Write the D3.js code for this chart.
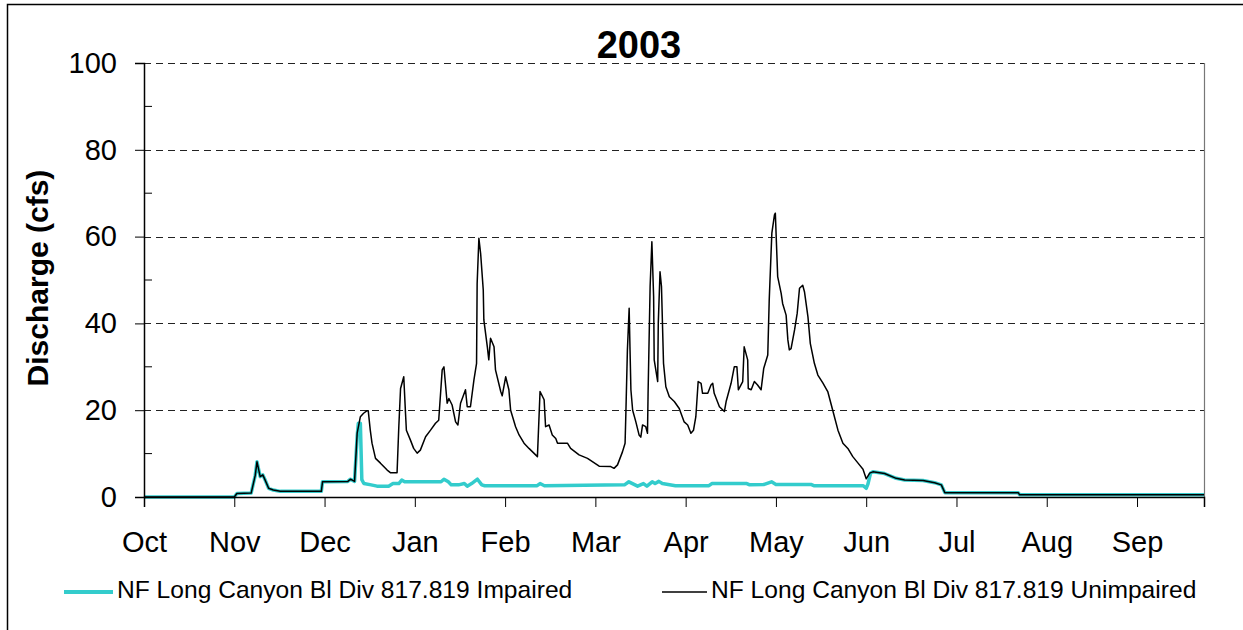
<!DOCTYPE html>
<html>
<head>
<meta charset="UTF-8">
<title>2003</title>
<script src="https://d3js.org/d3.v7.min.js"></script>
<style>
  body { margin: 0; background: #fff; font-family: "Liberation Sans", Arial, sans-serif; }
</style>
</head>
<body>
<svg width="1243" height="630"></svg>
<script>
// day index from Oct 1, discharge in cfs
const unimpaired = [[0,0],[31,0],[31.9,0.8],[36.8,0.9],[38.2,5],[38.8,8.1],[39.9,4.7],[40.8,5.1],[41.6,3.9],[42.8,2],[44.4,1.6],[46.8,1.3],[60.9,1.3],[61.3,3.5],[70,3.6],[70.9,4.1],[72.3,3.6],[73.2,14.7],[74.3,18.5],[75.4,19.3],[76.6,19.9],[77,19.9],[77.7,15.4],[78.3,12.4],[79.5,8.9],[81.2,7.8],[83.5,6.2],[84.6,5.6],[86.9,5.6],[87.5,16.2],[88.1,25],[89.2,27.7],[89.8,19.3],[90.1,15.4],[91.5,13.1],[92.6,11.2],[93.8,10.1],[94.9,10.8],[96.7,13.9],[98.4,15.4],[100.1,17],[101.2,17.7],[102.4,29.3],[103,30],[104.1,21.6],[104.7,22.7],[105.8,21.2],[107,17.3],[107.8,16.6],[108.7,21.6],[110.4,24.7],[111,20.8],[112.1,20.8],[113.3,27],[114.2,30.8],[114.4,49.2],[115,59.6],[115.6,56.1],[116.5,47.7],[116.7,40.8],[117.9,34.6],[118.4,31.6],[119,36.6],[120.2,34.6],[120.7,29.3],[122.5,24.3],[123,23.3],[124.2,27.7],[125.3,24.7],[125.9,20],[127.6,16.2],[128.8,14.3],[130.5,12.4],[132.2,11.2],[135.1,9.3],[136,24.3],[137.4,22.4],[137.9,16.2],[139.1,16.6],[140.2,14.3],[141.4,13.5],[142,12.4],[145.4,12.4],[146.5,11.2],[149.4,9.7],[152.3,8.9],[156.3,7.1],[160.3,7],[161.4,6.6],[162.6,7.4],[164.3,10.4],[165.2,12.4],[165.5,20],[166,33.9],[166.6,43.5],[166.9,33.9],[167.2,24.7],[167.8,20],[168.9,17.3],[170,14.3],[170.6,13.8],[171.2,16.6],[172.3,16.2],[172.9,14.7],[173.1,23.9],[173.8,48.5],[174.4,58.8],[175,46.2],[175.2,31.6],[176.4,26.6],[176.6,40],[177.2,51.9],[177.7,48.5],[178.4,30.8],[179.2,25.4],[180.4,23.1],[182.1,22],[183.8,20.4],[185.5,17.3],[186.7,16.6],[187.8,14.7],[188.7,15.4],[189.5,18.5],[190.3,26.6],[191.3,26.2],[191.8,23.9],[193.6,23.9],[194.7,25.8],[195.3,26.2],[195.8,23.9],[197.6,20.8],[199.3,19.7],[199.9,22],[201.6,26.2],[202.7,30],[203.6,30],[204.1,24.7],[205.6,26.6],[206.1,34.6],[207.3,31.6],[207.5,25],[208.5,24.7],[209.6,26.6],[210.7,25.8],[211.9,24.7],[212.8,29.6],[214.2,32.7],[214.7,45.4],[215.6,60.8],[216.5,65],[216.8,65.4],[217.6,50.8],[218.8,46.9],[219.3,44.6],[220.5,41.9],[221.1,36.2],[221.6,33.9],[222.2,34.2],[223.4,38.5],[224.3,42.3],[225.1,48.1],[226.2,48.8],[226.8,47.3],[228,41.5],[228.8,35.4],[230.2,30.8],[231.4,28.1],[233.1,26.3],[234.8,24.3],[236.5,20],[238.3,15.4],[240,12.4],[241.7,11.2],[243.4,9.3],[245.2,7.8],[246.9,6.4],[248,4.2],[249.2,5.5],[250.3,5.8],[254.3,5.4],[258.3,4.3],[261.2,3.9],[267.5,3.8],[271.5,3.3],[273.8,2.8],[275,1],[300.2,1],[300.7,0.5],[364,0.5]];

const impaired = [[0,0],[31,0],[31.9,0.8],[36.8,0.9],[38.2,5],[38.8,8.1],[39.9,4.7],[40.8,5.1],[41.6,3.9],[42.8,2],[44.4,1.6],[46.8,1.3],[60.9,1.3],[61.3,3.5],[70,3.6],[70.9,4.1],[72.3,3.6],[73.2,14],[73.6,17],[74.3,17],[74.8,4],[75.5,3.1],[78,2.8],[80,2.5],[84,2.5],[85.5,3.1],[87.5,3.1],[88.5,3.9],[89.5,3.5],[102,3.5],[103,4.1],[104.5,3.5],[105.5,2.8],[108,2.8],[110,3.1],[111,2.5],[112.5,3.1],[114.5,4.1],[116,2.8],[117,2.6],[135,2.6],[136,3.1],[137.5,2.6],[165,2.8],[166.5,3.5],[169.5,2.5],[171.5,3.1],[172.7,2.5],[174.5,3.5],[175.5,3.1],[176.8,3.6],[178,3.1],[182.5,2.6],[194,2.6],[195,3.1],[207,3.1],[208,2.8],[213,2.9],[215.5,3.5],[217,2.9],[229,2.9],[230,2.6],[247,2.6],[248,2],[248.6,3],[249.5,5.5],[250.3,5.8],[254.3,5.4],[258.3,4.3],[261.2,3.9],[267.5,3.8],[271.5,3.3],[273.8,2.8],[275,1],[300.2,1],[300.7,0.5],[364,0.5]];

const monthTicks = [0,31,62,93,124,155,186,217,248,279,310,341];
const monthLabels = ["Oct","Nov","Dec","Jan","Feb","Mar","Apr","May","Jun","Jul","Aug","Sep"];
const yMajor = [0,20,40,60,80,100];
const yMinor = [10,30,50,70,90];
const seriesNames = ["NF Long Canyon Bl Div 817.819 Impaired", "NF Long Canyon Bl Div 817.819 Unimpaired"];

const svg = d3.select("svg");
const font = '"Liberation Sans", Arial, sans-serif';

// outer frame
svg.append("rect").attr("x", 7.5).attr("y", 4.5).attr("width", 1250).attr("height", 640)
  .attr("fill", "none").attr("stroke", "#000").attr("stroke-width", 1.5);

const x = d3.scaleLinear().domain([0, 364]).range([144, 1204]);
const y = d3.scaleLinear().domain([0, 100]).range([497, 63]);

// dashed grid
svg.append("g")
  .selectAll("line").data(yMajor.filter(d => d > 0)).join("line")
  .attr("x1", x(0)).attr("x2", x(364))
  .attr("y1", d => Math.round(y(d)) + 0.5).attr("y2", d => Math.round(y(d)) + 0.5)
  .attr("stroke", "#222").attr("stroke-dasharray", "7,5");

// right border of plot
svg.append("line").attr("x1", x(364) + 0.5).attr("x2", x(364) + 0.5)
  .attr("y1", y(100)).attr("y2", y(0)).attr("stroke", "#777").attr("stroke-width", 1.2);

// series
const line = d3.line().x(d => x(d[0])).y(d => y(d[1]));
svg.append("path").datum(impaired).attr("d", line)
  .attr("fill", "none").attr("stroke", "#33cccc").attr("stroke-width", 3.5).attr("stroke-linejoin", "round");
svg.append("path").datum(unimpaired).attr("d", line)
  .attr("fill", "none").attr("stroke", "#000").attr("stroke-width", 1.5).attr("stroke-linejoin", "round");

// y axis
const yAxis = svg.append("g").attr("transform", "translate(144,0)")
  .call(d3.axisLeft(y).tickValues(yMajor).tickSize(9).tickPadding(18));
yAxis.select(".domain").attr("stroke", "#000").attr("stroke-width", 1.5);
yAxis.selectAll(".tick text").attr("font-family", font).attr("font-size", 29).attr("fill", "#000");
svg.append("g").selectAll("line").data(yMinor).join("line")
  .attr("x1", 144).attr("x2", 152)
  .attr("y1", d => y(d)).attr("y2", d => y(d)).attr("stroke", "#000");

// x axis
const xAxis = svg.append("g").attr("transform", "translate(0,497)")
  .call(d3.axisBottom(x).tickValues(monthTicks).tickSize(10).tickPadding(24)
    .tickFormat((d, i) => monthLabels[i]));
xAxis.select(".domain").attr("stroke", "#000").attr("stroke-width", 1.5);
xAxis.selectAll(".tick text").attr("font-family", font).attr("font-size", 29).attr("fill", "#000");

// title
svg.append("text").attr("x", 639).attr("y", 58).attr("text-anchor", "middle")
  .attr("font-family", font).attr("font-weight", "bold").attr("font-size", 38).text("2003");

// y label
svg.append("text").attr("transform", "translate(48,278) rotate(-90)").attr("text-anchor", "middle")
  .attr("font-family", font).attr("font-weight", "bold").attr("font-size", 30).text("Discharge (cfs)");

// legend
const legend = [
  { name: seriesNames[0], color: "#33cccc", width: 4, x1: 64, x2: 113 },
  { name: seriesNames[1], color: "#000", width: 1.6, x1: 662, x2: 707 }
];
const lg = svg.append("g");
legend.forEach(l => {
  lg.append("line").attr("x1", l.x1).attr("x2", l.x2).attr("y1", 592).attr("y2", 592)
    .attr("stroke", l.color).attr("stroke-width", l.width);
  lg.append("text").attr("x", l.x2 + 4).attr("y", 598).attr("font-family", font)
    .attr("font-size", 24.6).text(l.name);
});
</script>
</body>
</html>
